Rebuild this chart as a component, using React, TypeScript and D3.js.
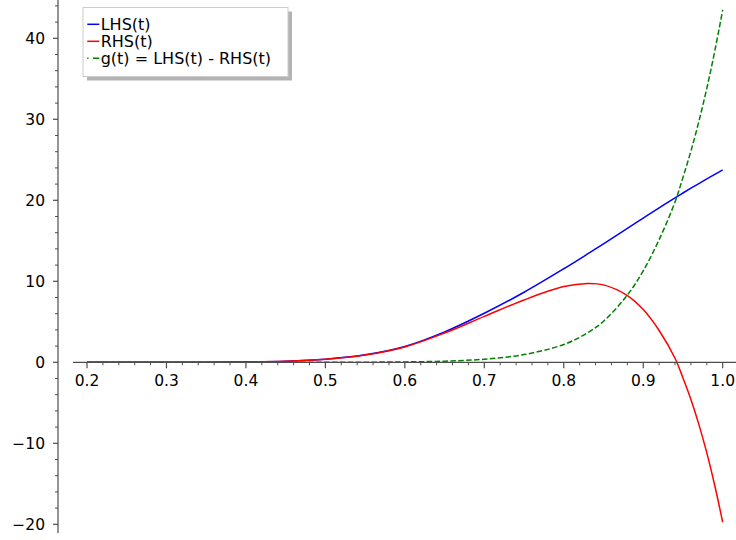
import React from "react";
import * as d3 from "d3";

const tValues = [0.2, 0.25, 0.3, 0.35, 0.4, 0.45, 0.5, 0.55, 0.6, 0.65, 0.7, 0.75, 0.8, 0.83, 0.85, 0.88, 0.9, 0.92, 0.94, 0.95, 0.96, 0.97, 0.98, 0.99, 1.0];
const lhsValues = [0, 0, 0.001, 0.008, 0.035, 0.13, 0.38, 0.92, 1.95, 3.75, 6.05, 8.65, 11.55, 13.38, 14.63, 16.54, 17.81, 19.07, 20.3, 20.9, 21.49, 22.07, 22.64, 23.2, 23.75];
const rhsValues = [0, 0, 0.001, 0.008, 0.035, 0.129, 0.376, 0.905, 1.9, 3.61, 5.67, 7.7, 9.35, 9.74, 9.56, 8.24, 6.51, 3.93, 0.5, -1.93, -4.58, -7.66, -11.18, -15.21, -19.75];
const gValues = [0, 0, 0, 0, 0, 0.001, 0.004, 0.015, 0.048, 0.14, 0.38, 0.95, 2.2, 3.64, 5.07, 8.3, 11.3, 15.14, 19.8, 22.83, 26.07, 29.73, 33.82, 38.41, 43.5];

const xMajorTicks = [0.2, 0.3, 0.4, 0.5, 0.6, 0.7, 0.8, 0.9, 1.0];
const xTickLabels = ["0.2", "0.3", "0.4", "0.5", "0.6", "0.7", "0.8", "0.9", "1.0"];
const yMajorTicks = [-20, -10, 0, 10, 20, 30, 40];
const yTickLabels = ["\u221220", "\u221210", "0", "10", "20", "30", "40"];
const legendLabels = ["LHS(t)", "RHS(t)", "g(t) = LHS(t) - RHS(t)"];

const W = 736;
const H = 540;
const FONT = "DejaVu Sans, sans-serif";

export default function App() {
  const x = d3.scaleLinear().domain([0.2, 1.0]).range([87, 722.7]);
  const y = d3.scaleLinear().domain([0, 40]).range([362.3, 38.3]);

  const xMinor = d3.range(0.18, 1.0401, 0.02).filter(
    (v) => !xMajorTicks.some((m) => Math.abs(m - v) < 1e-6) && x(v) >= 73 && x(v) <= 736
  );
  const yMinor = d3.range(-20, 44.01, 2).filter((v) => Math.abs(v % 10) > 1e-6);

  const line = d3
    .line<number>()
    .x((_, i) => x(tValues[i]))
    .y((d) => y(d))
    .curve(d3.curveCatmullRom.alpha(0.5));

  const series = [
    { values: lhsValues, color: "#0000ff", dash: undefined as string | undefined },
    { values: rhsValues, color: "#ff0000", dash: undefined as string | undefined },
    { values: gValues, color: "#008000", dash: "5.5,2.4" },
  ];

  const axisColor = "#4d4d4d";
  const y0 = y(0);
  const yAxisX = 58;

  return (
    <div style={{ position: "fixed", left: 0, top: 0, width: W, height: H, background: "#fff" }}>
      <svg width={W} height={H} style={{ display: "block" }} fontFamily={FONT}>
        <rect x={0} y={0} width={W} height={H} fill="#fff" />
        {series.map((s, i) => (
          <path
            key={i}
            d={line(s.values) || ""}
            fill="none"
            stroke={s.color}
            strokeWidth={1.5}
            strokeDasharray={s.dash}
          />
        ))}
        <line x1={73} x2={736} y1={y0} y2={y0} stroke={axisColor} strokeWidth={1.2} />
        {xMajorTicks.map((v, i) => (
          <g key={"xm" + i}>
            <line x1={x(v)} x2={x(v)} y1={y0} y2={y0 + 6} stroke={axisColor} strokeWidth={1.2} />
            <text x={x(v)} y={386} fontSize={15.5} textAnchor="middle" fill="#000">
              {xTickLabels[i]}
            </text>
          </g>
        ))}
        {xMinor.map((v, i) => (
          <line key={"xn" + i} x1={x(v)} x2={x(v)} y1={y0} y2={y0 + 3} stroke={axisColor} strokeWidth={1} />
        ))}
        <line x1={yAxisX} x2={yAxisX} y1={0} y2={533} stroke={axisColor} strokeWidth={1.2} />
        {yMajorTicks.map((v, i) => (
          <g key={"ym" + i}>
            <line x1={yAxisX - 5} x2={yAxisX} y1={y(v)} y2={y(v)} stroke={axisColor} strokeWidth={1.2} />
            <text x={45} y={y(v)} dy="0.36em" fontSize={15.5} textAnchor="end" fill="#000">
              {yTickLabels[i]}
            </text>
          </g>
        ))}
        {yMinor.map((v, i) => (
          <line key={"yn" + i} x1={yAxisX - 3} x2={yAxisX} y1={y(v)} y2={y(v)} stroke={axisColor} strokeWidth={1} />
        ))}
        <rect x={87} y={11.5} width={205} height={69} fill="#b3b3b3" />
        <rect x={83} y={7.5} width={205} height={69} fill="#fff" stroke="#cccccc" strokeWidth={1} />
        {legendLabels.map((lab, i) => (
          <g key={"lg" + i}>
            <line
              x1={87.3}
              x2={99.3}
              y1={24.3 + i * 17}
              y2={24.3 + i * 17}
              stroke={series[i].color}
              strokeWidth={1.5}
              strokeDasharray={series[i].dash ? "1.2,4.5,7" : undefined}
            />
            <text x={100.7} y={24.3 + i * 17} dy="0.36em" fontSize={16} fill="#000">
              {lab}
            </text>
          </g>
        ))}
      </svg>
    </div>
  );
}
